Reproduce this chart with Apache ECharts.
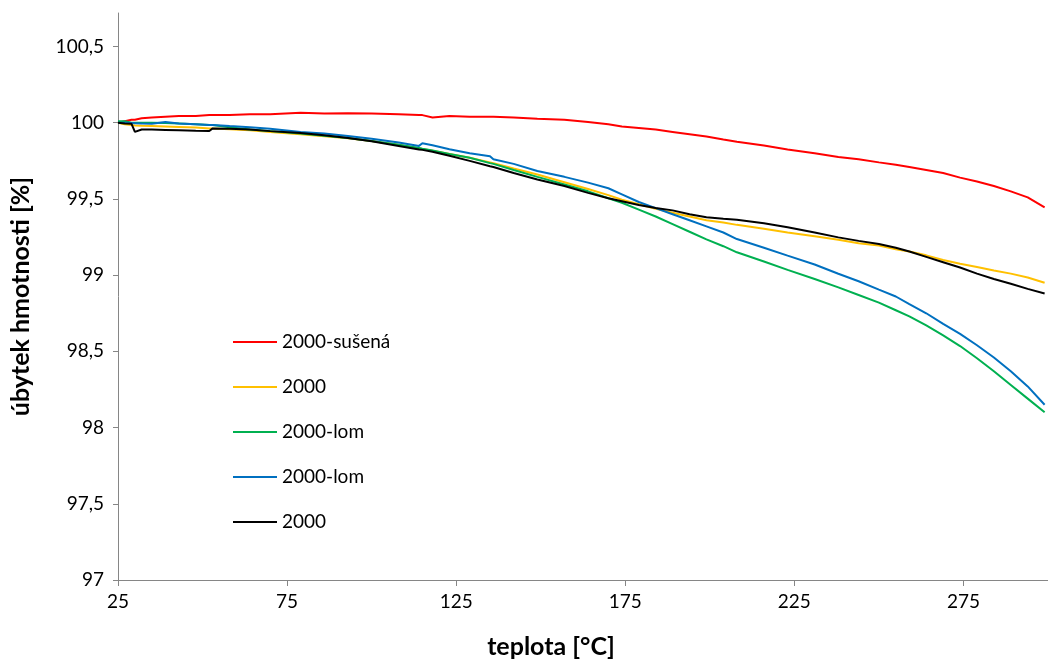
<!DOCTYPE html>
<html>
<head>
<meta charset="utf-8">
<script src="https://cdn.jsdelivr.net/npm/echarts@6/dist/echarts.min.js"></script>
<style>
  html, body { margin: 0; padding: 0; background: #fff; }
  #chart { width: 1048px; height: 664px; }
</style>
</head>
<body>
<div id="chart"></div>
<script>
const temps = [25, 27, 29, 30, 32, 35, 39, 43, 48, 52, 53, 58, 64, 70, 79, 86, 93, 100, 108, 114, 115, 118, 123, 129, 135, 136, 142, 149, 157, 164, 170, 174, 179, 184, 189, 194, 199, 204, 208, 216, 223, 231, 238, 244, 250, 255, 259, 264, 269, 274, 279, 284, 289, 294, 299];

const red2000Susena = [100.00, 100.01, 100.02, 100.02, 100.03, 100.035, 100.04, 100.045, 100.045, 100.05, 100.05, 100.05, 100.055, 100.055, 100.065, 100.06, 100.062, 100.06, 100.055, 100.05, 100.05, 100.035, 100.045, 100.04, 100.04, 100.04, 100.035, 100.026, 100.02, 100.005, 99.99, 99.975, 99.965, 99.955, 99.94, 99.925, 99.91, 99.89, 99.875, 99.85, 99.825, 99.80, 99.775, 99.76, 99.74, 99.725, 99.71, 99.69, 99.67, 99.64, 99.615, 99.585, 99.55, 99.51, 99.445];

const yellow2000 = [100.0, 99.99, 99.985, 99.982, 99.98, 99.978, 99.975, 99.972, 99.968, 99.963, 99.963, 99.958, 99.95, 99.94, 99.925, 99.912, 99.898, 99.88, 99.855, 99.832, 99.828, 99.816, 99.795, 99.77, 99.74, 99.735, 99.70, 99.66, 99.61, 99.565, 99.525, 99.495, 99.465, 99.435, 99.41, 99.385, 99.36, 99.345, 99.33, 99.305, 99.28, 99.255, 99.233, 99.21, 99.194, 99.17, 99.155, 99.13, 99.10, 99.075, 99.053, 99.03, 99.01, 98.985, 98.95];

const green2000Lom = [100.01, 100.01, 100.0, 100.0, 100.0, 100.0, 99.998, 99.995, 99.99, 99.985, 99.985, 99.97, 99.955, 99.945, 99.93, 99.915, 99.90, 99.88, 99.855, 99.835, 99.83, 99.818, 99.795, 99.77, 99.735, 99.73, 99.69, 99.645, 99.595, 99.55, 99.505, 99.475, 99.43, 99.385, 99.335, 99.285, 99.235, 99.19, 99.15, 99.09, 99.035, 98.975, 98.92, 98.87, 98.82, 98.77, 98.73, 98.67, 98.605, 98.535, 98.455, 98.37, 98.28, 98.19, 98.10];

const blue2000Lom = [100.0, 100.0, 99.998, 99.997, 99.995, 99.993, 100.005, 99.995, 99.99, 99.985, 99.985, 99.978, 99.97, 99.96, 99.94, 99.93, 99.913, 99.895, 99.87, 99.848, 99.865, 99.852, 99.826, 99.80, 99.78, 99.76, 99.73, 99.683, 99.645, 99.607, 99.57, 99.53, 99.48, 99.44, 99.40, 99.36, 99.32, 99.28, 99.237, 99.18, 99.128, 99.07, 99.009, 98.96, 98.905, 98.86, 98.81, 98.75, 98.68, 98.615, 98.54, 98.46, 98.37, 98.27, 98.15];

const black2000 = [100.0, 99.995, 99.993, 99.94, 99.956, 99.955, 99.953, 99.951, 99.948, 99.946, 99.963, 99.96, 99.955, 99.945, 99.933, 99.918, 99.90, 99.878, 99.848, 99.825, 99.822, 99.81, 99.783, 99.75, 99.715, 99.71, 99.67, 99.628, 99.585, 99.54, 99.505, 99.485, 99.46, 99.44, 99.425, 99.40, 99.38, 99.37, 99.363, 99.34, 99.314, 99.28, 99.248, 99.225, 99.205, 99.18, 99.155, 99.12, 99.085, 99.05, 99.01, 98.975, 98.944, 98.91, 98.88];

const xTicks = [25, 75, 125, 175, 225, 275];
const yTicks = [97, 97.5, 98, 98.5, 99, 99.5, 100, 100.5];

const seriesNames = ['2000-sušená', '2000 #1', '2000-lom #1', '2000-lom #2', '2000 #2'];
const seriesColors = ['#FF0000', '#FFC000', '#00B050', '#0070C0', '#000000'];
const seriesValues = [red2000Susena, yellow2000, green2000Lom, blue2000Lom, black2000];

const FONT = 'Lato';

const chart = echarts.init(document.getElementById('chart'), null, { renderer: 'canvas' });

const series = seriesValues.map((vals, i) => ({
  name: seriesNames[i],
  type: 'line',
  data: temps.map((t, j) => [t, vals[j]]),
  symbol: 'none',
  smooth: false,
  animation: false,
  lineStyle: { color: seriesColors[i], width: 2 },
  itemStyle: { color: seriesColors[i] }
}));

chart.setOption({
  backgroundColor: '#ffffff',
  animation: false,
  grid: { left: 118, top: 13, right: -3, bottom: 80, containLabel: false },
  legend: {
    orient: 'vertical',
    left: 228,
    top: 327,
    icon: 'rect',
    itemWidth: 44,
    itemHeight: 2,
    itemGap: 25,
    data: seriesNames,
    formatter: name => name.replace(/ #\d$/, ''),
    textStyle: { fontFamily: FONT, fontSize: 19, color: '#000', lineHeight: 20 }
  },
  xAxis: {
    type: 'value',
    min: 25,
    max: 300,
    name: 'teplota [°C]',
    nameLocation: 'middle',
    nameGap: 54,
    nameTextStyle: { fontFamily: FONT, fontSize: 25, fontWeight: 'bold', color: '#000', padding: [0, 64, 0, 0] },
    axisLine: { show: true, lineStyle: { color: '#868686', width: 1 } },
    axisTick: { show: true, length: 6, customValues: xTicks, lineStyle: { color: '#868686' } },
    axisLabel: { customValues: xTicks, margin: 12, fontFamily: FONT, fontSize: 19, color: '#000' },
    splitLine: { show: false }
  },
  yAxis: {
    type: 'value',
    min: 97,
    max: 100.72,
    name: 'úbytek hmotnosti [%]',
    nameLocation: 'middle',
    nameGap: 85,
    nameTextStyle: { fontFamily: FONT, fontSize: 25, fontWeight: 'bold', color: '#000' },
    axisLine: { show: true, lineStyle: { color: '#868686', width: 1 } },
    axisTick: { show: true, length: 5, customValues: yTicks, lineStyle: { color: '#868686' } },
    axisLabel: {
      customValues: yTicks,
      margin: 14,
      fontFamily: FONT,
      fontSize: 19,
      color: '#000',
      formatter: v => String(v).replace('.', ',')
    },
    splitLine: { show: false }
  },
  series: series
});
</script>
</body>
</html>
